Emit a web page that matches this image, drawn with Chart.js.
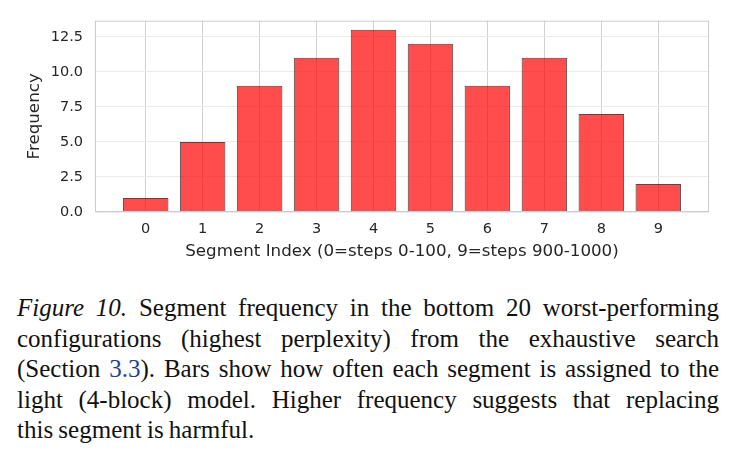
<!DOCTYPE html>
<html>
<head>
<meta charset="utf-8">
<script src="https://cdn.jsdelivr.net/npm/chart.js@4.4.0/dist/chart.umd.min.js"></script>
<style>
  html, body { margin: 0; padding: 0; background: #fff; }
  #wrap { position: relative; width: 735px; height: 268px; }
  #caption {
    position: absolute; left: 17px; top: 293px; width: 702px;
    font-family: "Liberation Serif", serif; font-size: 25px; line-height: 30.6px; color: #111;
    word-spacing: -1px;
  }
  #caption div { text-align: justify; text-align-last: justify; white-space: nowrap; }
  #caption div.tight { word-spacing: -3px; }
  #caption div.last { text-align-last: left; }
  #caption .ref { color: #1f3f9c; }
</style>
</head>
<body>
<div id="wrap"><canvas id="chart"></canvas></div>
<div id="caption">
  <div><i>Figure 10.</i> Segment frequency in the bottom 20 worst-performing</div>
  <div>configurations (highest perplexity) from the exhaustive search</div>
  <div class="tight">(Section <span class="ref">3.3</span>). Bars show how often each segment is assigned to the</div>
  <div>light (4-block) model. Higher frequency suggests that replacing</div>
  <div class="last">this segment is harmful.</div>
</div>
<script>
const segments = [0, 1, 2, 3, 4, 5, 6, 7, 8, 9];
const frequency = [1, 5, 9, 11, 13, 12, 9, 11, 7, 2];
const yTicks = [0, 2.5, 5, 7.5, 10, 12.5];

// light grey frame round the plot area
const frame = {
  id: 'frame',
  afterDraw(chart) {
    const { ctx, chartArea: a } = chart;
    ctx.save();
    ctx.strokeStyle = '#cccccc';
    ctx.lineWidth = 1;
    ctx.strokeRect(a.left + 0.5, a.top + 0.5, a.right - a.left - 1, a.bottom - a.top - 1);
    ctx.restore();
  }
};

const tickFont = { family: 'DejaVu Sans', size: 14.5 };
const titleFont = { family: 'DejaVu Sans', size: 16.7 };

new Chart(document.getElementById('chart'), {
  type: 'bar',
  data: {
    datasets: [{
      data: segments.map((s, i) => ({ x: s, y: frequency[i] })),
      backgroundColor: 'rgba(255,0,0,0.7)',
      borderColor: 'rgba(0,0,0,0.7)',
      borderWidth: 1,
      barPercentage: 0.8,
      categoryPercentage: 1
    }]
  },
  plugins: [frame],
  options: {
    responsive: true,
    maintainAspectRatio: false,
    animation: false,
    layout: { padding: { left: 0, right: 26, top: 20, bottom: 0 } },
    plugins: { legend: { display: false }, tooltip: { enabled: false } },
    scales: {
      x: {
        type: 'linear',
        offset: false,
        min: -0.89,
        max: 9.89,
        afterBuildTicks: (axis) => { axis.ticks = segments.map(v => ({ value: v })); },
        afterFit: (axis) => { axis.height = 56; },
        ticks: { color: '#262626', font: tickFont, padding: 9, maxRotation: 0, callback: (v) => String(v) },
        grid: { color: '#d0d0d0', drawTicks: false, offset: false },
        border: { display: false },
        title: { display: true, text: 'Segment Index (0=steps 0-100, 9=steps 900-1000)', color: '#262626', font: titleFont, padding: { top: 0, bottom: 6 } }
      },
      y: {
        min: 0,
        max: 13.65,
        afterBuildTicks: (axis) => { axis.ticks = yTicks.map(v => ({ value: v })); },
        afterFit: (axis) => { axis.width = 95; },
        ticks: { color: '#262626', font: tickFont, padding: 12, callback: (v) => v.toFixed(1) },
        grid: { color: '#ebebeb', drawTicks: false },
        border: { display: false },
        title: { display: true, text: 'Frequency', color: '#262626', font: titleFont, padding: { top: 25, bottom: 0 } }
      }
    }
  }
});
</script>
</body>
</html>
